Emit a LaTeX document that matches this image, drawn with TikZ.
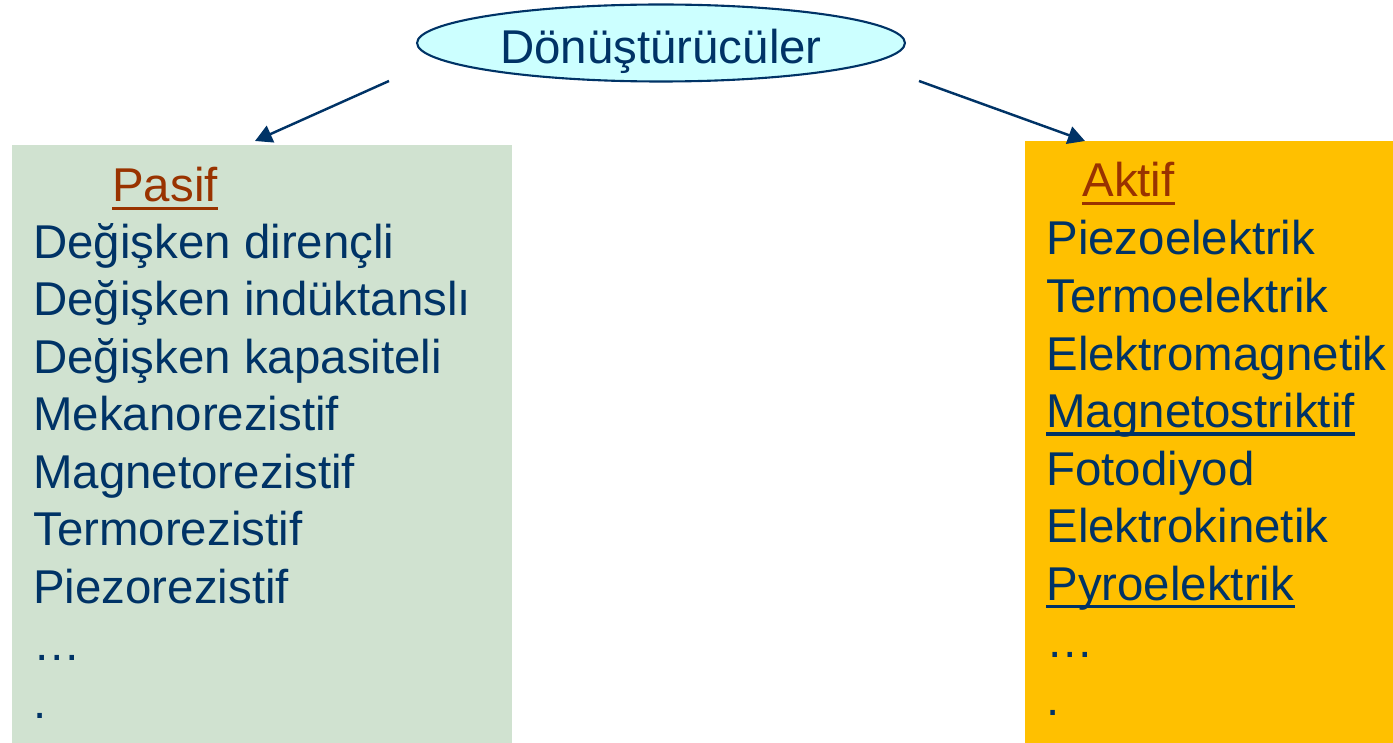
\documentclass[tikz,border=0pt]{standalone}
\usepackage{fontspec}
\setmainfont{Liberation Sans}
\usetikzlibrary{positioning,shapes.geometric,arrows.meta}
\definecolor{navy}{RGB}{0,51,102}
\definecolor{rust}{RGB}{153,51,0}
\definecolor{mint}{RGB}{208,226,208}
\definecolor{amber}{RGB}{255,192,0}
\definecolor{ice}{RGB}{204,255,255}

\begin{document}
\begin{tikzpicture}[
    x=0.02cm, y=-0.02cm,
    >={Triangle[length=3.4mm,width=3.6mm]},
    every node/.style={font=\fontsize{27}{32}\selectfont},
    root/.style={ellipse,draw=navy,line width=1.2pt,fill=ice,text=navy,
      minimum width=9.76cm,minimum height=1.54cm,inner sep=0,
      text height=24pt,text depth=0.5pt},
    panel/.style={rectangle,anchor=north west,inner sep=0},
    entry/.style={anchor=base west,inner sep=0,text=navy},
    hdr/.style={entry,text=rust},
    link/.style={->,draw=navy,line width=1.4pt},
    uline/.style={line width=2pt}
    ]

    \useasboundingbox (0,0) rectangle (1393,743);

    \node [root] (root) at (661,43) {Dönüştürücüler};

    \node [panel,fill=mint,minimum width=10cm,minimum height=11.96cm] (pbox) at (12,145) {};
    \node [panel,fill=amber,minimum width=7.36cm,minimum height=12.04cm] (abox) at (1025,141) {};

    % headings
    \node [hdr] (pasif) at (112,202) {Pasif};
    \node [hdr] (aktif) at (1082,197) {Aktif};

    % passive list
    \foreach \t [count=\i] in {Değişken dirençli,Değişken indüktanslı,
        Değişken kapasiteli,Mekanorezistif,Magnetorezistif,Termorezistif,
        Piezorezistif,…,.} {
      \node [entry] (p\i) at (33,{258+57.5*(\i-1)}) {\t};
    }

    % active list
    \foreach \t [count=\i] in {Piezoelektrik,Termoelektrik,Elektromagnetik,
        Magnetostriktif,Fotodiyod,Elektrokinetik,Pyroelektrik,…,.} {
      \node [entry] (a\i) at (1046,{255+57.5*(\i-1)}) {\t};
    }

    % underlines
    \draw [uline,rust] ([yshift=-0.13cm]pasif.base west) -- ([yshift=-0.13cm]pasif.base east);
    \draw [uline,rust] ([yshift=-0.13cm]aktif.base west) -- ([yshift=-0.13cm]aktif.base east);
    \draw [uline,navy] ([yshift=-0.13cm]a4.base west) -- ([yshift=-0.13cm]a4.base east);
    \draw [uline,navy] ([yshift=-0.13cm]a7.base west) -- ([yshift=-0.13cm]a7.base east);

    % arrows
    \coordinate (lstart) at (389,81);
    \coordinate (rstart) at (919,81);
    \draw [link] (lstart) -- ([shift={(243,-4)}]pbox.north west);
    \draw [link] (rstart) -- ([shift={(60,0)}]abox.north west);
  \end{tikzpicture}
\end{document}
